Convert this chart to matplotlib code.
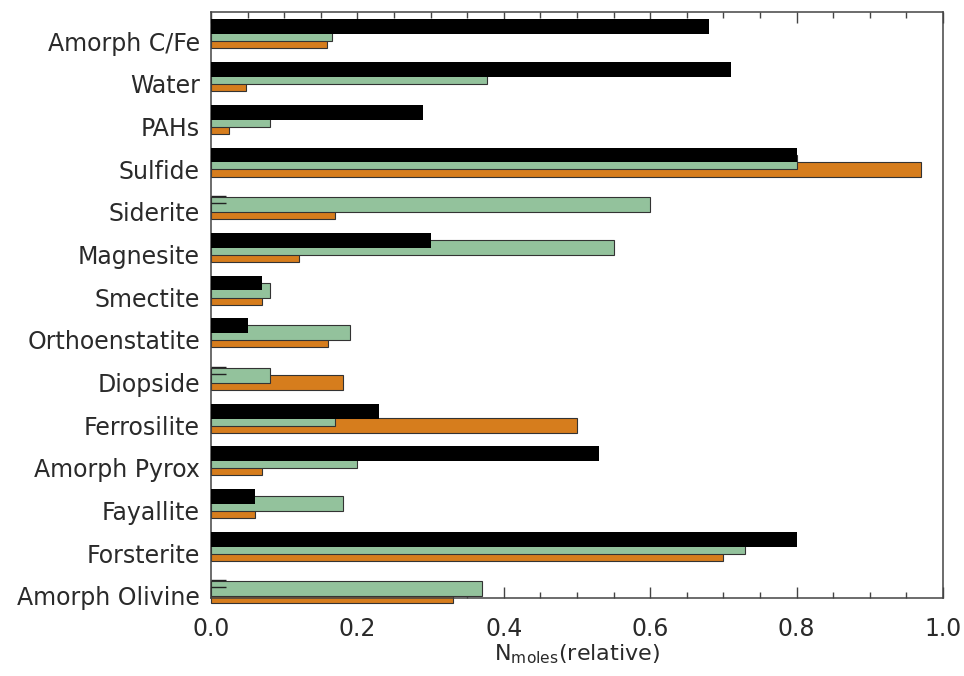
import matplotlib
matplotlib.use("Agg")
import matplotlib.pyplot as plt
import numpy as np

categories = ["Amorph C/Fe", "Water", "PAHs", "Sulfide", "Siderite", "Magnesite",
              "Smectite", "Orthoenstatite", "Diopside", "Ferrosilite", "Amorph Pyrox",
              "Fayallite", "Forsterite", "Amorph Olivine"]
black_vals = [0.68, 0.71, 0.29, 0.80, 0.00, 0.30, 0.07, 0.05, 0.00, 0.23, 0.53, 0.06, 0.80, 0.00]
green_vals = [0.165, 0.377, 0.08, 0.80, 0.60, 0.55, 0.08, 0.19, 0.08, 0.17, 0.20, 0.18, 0.73, 0.37]
orange_vals = [0.158, 0.048, 0.024, 0.97, 0.17, 0.12, 0.07, 0.16, 0.18, 0.50, 0.07, 0.06, 0.70, 0.33]
xticks = [0.0, 0.2, 0.4, 0.6, 0.8, 1.0]

plt.rcParams['font.family'] = ['DejaVu Sans']

fig = plt.figure(figsize=(9.64, 6.76), dpi=100)
ax = fig.add_axes([211/964, 1-598/676, 732/964, 586/676])

y = np.arange(len(categories))
h = 0.35
edge = '#333333'
ax.barh(y, orange_vals, height=h, color='#d67d1d', edgecolor=edge, linewidth=0.8,
        zorder=2, clip_on=False)
ax.barh(y - 0.165, green_vals, height=h, color='#93c29c', edgecolor=edge, linewidth=0.8,
        zorder=3, clip_on=False)
ax.barh(y - 0.33, black_vals, height=h, color='black', edgecolor='none', linewidth=0,
        zorder=4, clip_on=False)

# short outline marks where the black bar is zero
for i, v in enumerate(black_vals):
    if v == 0:
        ax.hlines([i - 0.37, i - 0.21], 0, 0.02, color='#222222', linewidth=1.0, zorder=5)

ax.set_xlim(0, 1.0)
ax.set_ylim(13.05, -0.68)
ax.set_yticks(y)
ax.set_yticklabels(categories, fontsize=17, color='#2a2a2a')
ax.set_xticks(xticks)
ax.set_xticklabels([f"{t:.1f}" for t in xticks], fontsize=17, color='#2a2a2a')
ax.set_xticks(np.arange(0, 1.0001, 0.05), minor=True)
ax.tick_params(axis='x', which='major', direction='in', length=8, width=1.0,
               top=True, color='#444444', pad=14)
ax.tick_params(axis='x', which='minor', direction='in', length=4, width=1.0,
               top=True, color='#444444')
ax.tick_params(axis='y', which='both', length=0, pad=8)
for s in ax.spines.values():
    s.set_linewidth(1.1)
    s.set_color('#444444')
ax.set_xlabel(r"N$_{\mathrm{moles}}$(relative)", fontsize=16, color='#2a2a2a', labelpad=1)

fig.savefig("out.png", dpi=100)
